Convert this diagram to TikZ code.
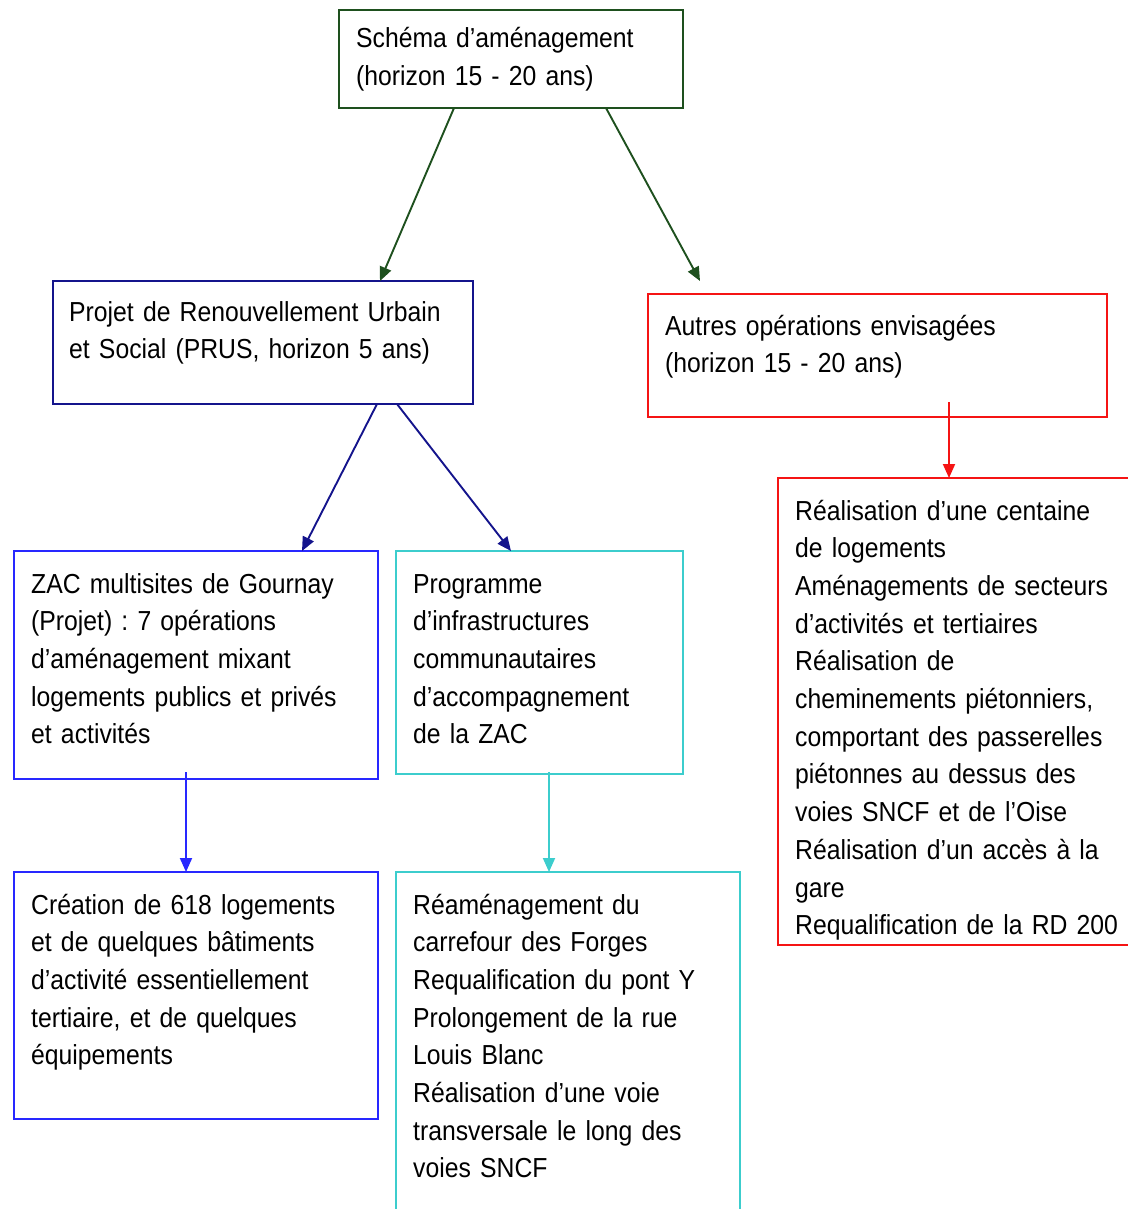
\documentclass[tikz,border=0pt]{standalone}
\usepackage{fontspec}
\setmainfont[FakeStretch=0.9]{Liberation Sans}
\usetikzlibrary{calc,arrows.meta}
\definecolor{greenD}{RGB}{30,80,30}
\definecolor{navyB}{RGB}{20,20,140}
\definecolor{blueB}{RGB}{40,40,255}
\definecolor{turqB}{RGB}{60,205,205}
\definecolor{redB}{RGB}{245,20,20}
\frenchspacing
\begin{document}
\begin{tikzpicture}[x=1pt,y=-1pt,
  box/.style={draw, line width=1.6pt, fill=none, inner sep=0pt, outer sep=0pt, anchor=north west},
  txt/.style={anchor=base west, inner sep=0pt, align=left, text width=420pt,
    font=\fontsize{27.5}{37.7}\selectfont},
  arr/.style={line width=1.9pt, -{Triangle[length=14pt,width=12pt]}}]
\useasboundingbox (0,0) rectangle (1127,1209);
% boxes
\node[box, draw=greenD, minimum width=344pt, minimum height=98pt] (sch) at (339,10) {};
\node[box, draw=navyB, minimum width=420pt, minimum height=123pt] (prus) at (53,281) {};
\node[box, draw=redB, minimum width=459pt, minimum height=123pt] (aut) at (648,294) {};
\node[box, draw=redB, minimum width=370pt, minimum height=467pt] (real) at (778,478) {};
\node[box, draw=blueB, minimum width=364pt, minimum height=228pt] (zac) at (14,551) {};
\node[box, draw=turqB, minimum width=287pt, minimum height=223pt] (prog) at (396,551) {};
\node[box, draw=blueB, minimum width=364pt, minimum height=247pt] (crea) at (14,872) {};
\node[box, draw=turqB, minimum width=344pt, minimum height=360pt] (ream) at (396,872) {};
% texts
\node[txt] (schT) at ($(sch.north west)+(17,38)$) {Schéma d’aménagement\\(horizon 15 - 20 ans)};
\node[txt] (prusT) at ($(prus.north west)+(16,40)$) {Projet de Renouvellement Urbain\\et Social (PRUS, horizon 5 ans)};
\node[txt] (autT) at ($(aut.north west)+(17,41)$) {Autres opérations envisagées\\(horizon 15 - 20 ans)};
\node[txt] (realT) at ($(real.north west)+(17,42)$) {Réalisation d’une centaine\\de logements\\Aménagements de secteurs\\d’activités et tertiaires\\Réalisation de\\cheminements piétonniers,\\comportant des passerelles\\piétonnes au dessus des\\voies SNCF et de l’Oise\\Réalisation d’un accès à la\\gare\\Requalification de la RD 200};
\node[txt] (zacT) at ($(zac.north west)+(17,42)$) {ZAC multisites de Gournay\\(Projet) : 7 opérations\\d’aménagement mixant\\logements publics et privés\\et activités};
\node[txt] (progT) at ($(prog.north west)+(17,42)$) {Programme\\d’infrastructures\\communautaires\\d’accompagnement\\de la ZAC};
\node[txt] (creaT) at ($(crea.north west)+(17,42)$) {Création de 618 logements\\et de quelques bâtiments\\d’activité essentiellement\\tertiaire, et de quelques\\équipements};
\node[txt] (reamT) at ($(ream.north west)+(17,42)$) {Réaménagement du\\carrefour des Forges\\Requalification du pont Y\\Prolongement de la rue\\Louis Blanc\\Réalisation d’une voie\\transversale le long des\\voies SNCF};
% connectors
\draw[arr, greenD] ([xshift=115pt]sch.south west) -- ([xshift=327pt]prus.north west);
\draw[arr, greenD] ([xshift=267pt]sch.south west) -- ([xshift=52pt,yshift=13pt]aut.north west);
\draw[arr, navyB] ([xshift=324pt]prus.south west) -- ([xshift=288pt]zac.north west);
\draw[arr, navyB] ([xshift=344pt]prus.south west) -- ([xshift=115pt]prog.north west);
\draw[arr, redB] ([xshift=301pt,yshift=15pt]aut.south west) -- ([xshift=171pt]real.north west);
\draw[arr, blueB] ([xshift=172pt,yshift=7pt]zac.south west) -- ([xshift=172pt]crea.north west);
\draw[arr, turqB] ([xshift=153pt,yshift=2pt]prog.south west) -- ([xshift=153pt]ream.north west);
\end{tikzpicture}
\end{document}
